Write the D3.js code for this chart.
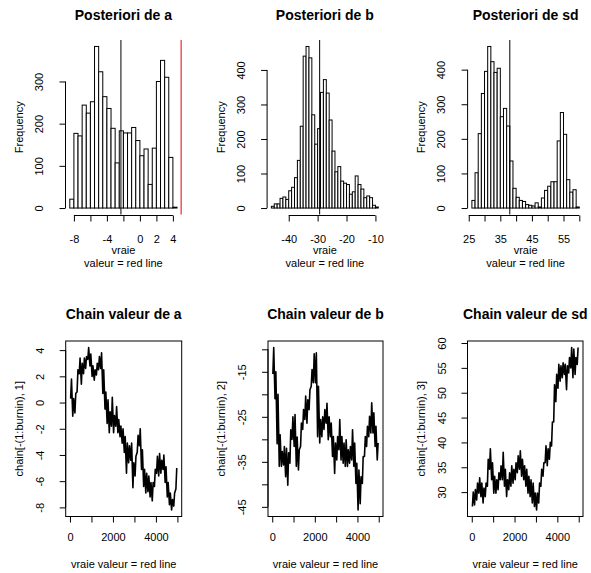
<!DOCTYPE html>
<html>
<head>
<meta charset="utf-8">
<script src="https://cdn.jsdelivr.net/npm/d3@7"></script>
<style>
  body { margin: 0; background: #fff; }
  svg { display: block; font-family: "Liberation Sans", Arial, sans-serif; }
</style>
</head>
<body>
<div id="chart"></div>
<script>
// ---- histogram counts (bins) ----
const histACounts = [21, 177, 171, 244, 225, 252, 383, 323, 264, 236, 189, 107, 183,
  178, 178, 191, 160, 124, 140, 56, 142, 300, 350, 310, 120, 2];
const histAStart = -8.5, histAStep = 0.5;

const histBCounts = [5, 12, 12, 28, 32, 25, 50, 60, 88, 138, 237, 440, 468, 435, 270,
  185, 230, 335, 372, 333, 255, 165, 105, 120, 78, 72, 68, 40, 47, 93, 68, 55, 30,
  35, 30, 8, 3];
const histBStart = -46, histBStep = 1;

const histSdCounts = [22, 102, 215, 331, 395, 467, 423, 392, 404, 264, 288, 237, 136,
  57, 31, 22, 19, 10, 8, 6, 15, 3, 29, 51, 63, 76, 76, 194, 276, 213, 82, 46, 53, 3];
const histSdStart = 26, histSdStep = 1;

// black line (posterior mean) and red line (true value)
const meanValues = [-2.3, -29.3, 38.0];
const trueValueA = 5;

// ---- chains: low / high value in each block of 100 iterations ----
const traceALo = [0.3, -1.05, -0.8, 0.8, 2.2, 1.4, 2.2, 2.6, 3.3, 2.8, 2.0, 1.7, 2.1, 2.5,
  2.6, 0.7, -0.5, -1.6, -2.3, -1.8, -2.3, -1.8, -2.3, -2.6, -3.1, -3.8, -5.4, -4.6, -4.4,
  -6.5, -5.6, -3.8, -3.3, -5.1, -6.4, -6.9, -6.8, -7.2, -7.5, -6.4, -5.4, -5.6, -5.4,
  -5.1, -6.1, -7.2, -7.8, -8.2, -7.9, -6.6];
const traceAHi = [1.8, 0.3, 0.7, 2.5, 3.4, 3.0, 3.4, 3.5, 4.2, 3.7, 2.8, 2.5, 3.0, 3.5,
  3.8, 2.5, 0.8, 0.2, -0.7, 0.4, -1.0, -0.3, -1.3, -1.8, -2.0, -2.6, -3.1, -3.3, -3.1,
  -4.6, -4.1, -2.5, -2.0, -3.6, -5.1, -5.4, -5.6, -6.1, -6.1, -5.1, -4.1, -3.9, -4.4,
  -4.0, -4.9, -6.1, -6.9, -7.4, -6.9, -5.0];

const traceBLo = [-15.5, -21, -31, -36, -36, -35.7, -38.3, -40.2, -35.3, -30, -31.6, -36,
  -36.8, -31.6, -27.8, -25.6, -26.4, -23.4, -18.2, -17.4, -17.4, -29.4, -30.8, -29.4,
  -27.8, -26.4, -30.1, -29.4, -33.8, -37.6, -34.6, -32.3, -34.6, -35.3, -36, -36, -35.3,
  -34.6, -36, -39.8, -45.7, -44.3, -39.8, -33.8, -31.6, -29.4, -28.6, -28.6, -31.6, -34.6];
const traceBHi = [-9.6, -15, -20, -29, -32.7, -31.6, -32, -33, -27.9, -25, -24.5, -29.5,
  -32.3, -26.4, -23.4, -20.4, -21.2, -19, -14.5, -11, -10.8, -18.2, -25.6, -25, -23.4,
  -22, -25, -26.4, -29.4, -30.8, -29.4, -25.6, -29.4, -30.8, -30.1, -32.3, -31.6, -27.9,
  -30.8, -35.3, -36.8, -38.3, -33.8, -29.4, -27.1, -24.9, -21.9, -24.1, -27.1, -30.8];

const traceSdLo = [27.1, 27.4, 28.4, 29.8, 29.1, 27.8, 29.1, 31.2, 34.6, 32.5, 29.8, 29.8,
  30.5, 32.5, 32.5, 31.2, 29.1, 30.5, 31.2, 31.8, 32.5, 33.9, 34.6, 33.2, 32.5, 31.2, 29.8,
  29.1, 27.8, 27.1, 26.4, 27.8, 31.2, 33.2, 35.9, 35.3, 36.6, 39.3, 44.1, 48.2, 50.9, 52.3,
  53, 53.7, 50.6, 54, 55, 53, 53.7, 55.7];
const traceSdHi = [30, 30.5, 31.8, 32.9, 31.8, 30.8, 31.8, 36.6, 38.7, 35.9, 33.2, 32.5,
  33.9, 35.3, 38, 34.6, 32.5, 33.9, 35.3, 34.6, 35.9, 37.3, 38.3, 36.6, 35.3, 34.6, 33.2,
  32.5, 31.8, 29.8, 29.8, 31.8, 34.6, 35.9, 39.3, 38.7, 40, 44.1, 51.6, 53.7, 55.7, 55.4,
  56, 55.7, 55.4, 57.1, 59.1, 58.8, 57.1, 59.1];
const nIter = 5000, blockSize = 100;

// ---- ticks ----
const histAXTicks = [-8, -6, -4, -2, 0, 2, 4], histAXLabels = ["-8", "", "-4", "", "0", "2", "4"];
const histBXTicks = [-40, -30, -20, -10], histBXLabels = ["-40", "-30", "-20", "-10"];
const histSdXTicks = [25, 30, 35, 40, 45, 50, 55, 60],
  histSdXLabels = ["25", "", "35", "", "45", "", "55", ""];
const histAYTicks = [0, 100, 200, 300];
const histBYTicks = [0, 100, 200, 300, 400];
const histSdYTicks = [0, 100, 200, 300, 400];
const iterTicks = [0, 1000, 2000, 3000, 4000, 5000],
  iterLabels = ["0", "", "2000", "", "4000", ""];
const traceAYTicks = [-8, -6, -4, -2, 0, 2, 4];
const traceBYTicks = [-45, -40, -35, -30, -25, -20, -15, -10],
  traceBYLabels = ["-45", "", "-35", "", "-25", "", "-15", ""];
const traceSdYTicks = [30, 35, 40, 45, 50, 55, 60];

const svg = d3.select("#chart").append("svg")
  .attr("width", 591)
  .attr("height", 573);

// R-style axis extension of 4 %
function extend(lo, hi) {
  const pad = (hi - lo) * 0.04;
  return [lo - pad, hi + pad];
}

function xAxisAt(g, scale, ticks, labels, y, labelY) {
  const ax = g.append("g")
    .attr("transform", `translate(0,${y})`)
    .call(d3.axisBottom(scale).tickValues(ticks).tickSize(6).tickFormat((d, i) => labels[i]));
  ax.select(".domain").attr("d", `M${scale(ticks[0])},0H${scale(ticks[ticks.length - 1])}`);
  ax.selectAll("line, path").attr("stroke", "#000");
  ax.selectAll("text")
    .attr("y", labelY)
    .attr("dy", null)
    .attr("fill", "#000")
    .attr("font-size", 11)
    .attr("font-family", "Liberation Sans, Arial, sans-serif");
}

function yAxisAt(g, scale, ticks, labels, x, labelX) {
  const ax = g.append("g")
    .attr("transform", `translate(${x},0)`)
    .call(d3.axisLeft(scale).tickValues(ticks).tickSize(6).tickFormat((d, i) => labels[i]));
  ax.select(".domain").attr("d", `M0,${scale(ticks[0])}V${scale(ticks[ticks.length - 1])}`);
  ax.selectAll("line, path").attr("stroke", "#000");
  ax.selectAll("text")
    .attr("transform", "rotate(-90)")
    .attr("x", 0)
    .attr("y", -labelX)
    .attr("dy", null)
    .attr("text-anchor", "middle")
    .attr("fill", "#000")
    .attr("font-size", 11)
    .attr("font-family", "Liberation Sans, Arial, sans-serif");
}

function drawHist(cfg) {
  const n = cfg.counts.length;
  const bins = cfg.counts.map((c, i) => ({
    x0: cfg.start + i * cfg.step,
    x1: cfg.start + (i + 1) * cfg.step,
    count: c
  }));
  const x = d3.scaleLinear()
    .domain(extend(cfg.start, cfg.start + n * cfg.step))
    .range([cfg.left, cfg.right]);
  const y = d3.scaleLinear()
    .domain(extend(0, d3.max(cfg.counts)))
    .range([cfg.bottom, cfg.top]);

  const g = svg.append("g");

  g.selectAll(".bar")
    .data(bins)
    .join("rect")
    .attr("class", "bar")
    .attr("x", d => x(d.x0))
    .attr("y", d => y(d.count))
    .attr("width", d => x(d.x1) - x(d.x0))
    .attr("height", d => y(0) - y(d.count))
    .attr("fill", "#fff")
    .attr("stroke", "#000")
    .attr("stroke-width", 1);

  // mean line
  g.append("line")
    .attr("x1", x(cfg.mean)).attr("x2", x(cfg.mean))
    .attr("y1", cfg.top).attr("y2", cfg.bottom)
    .attr("stroke", "#000");

  if (cfg.trueValue !== undefined) {
    g.append("line")
      .attr("x1", x(cfg.trueValue)).attr("x2", x(cfg.trueValue))
      .attr("y1", cfg.top).attr("y2", cfg.bottom)
      .attr("stroke", "#e00000");
  }

  xAxisAt(g, x, cfg.xTicks, cfg.xLabels, cfg.bottom + 1, 27.5);
  yAxisAt(g, y, cfg.yTicks, cfg.yTicks.map(String), cfg.left, 22.2);

  const cx = (cfg.left + cfg.right) / 2;
  g.append("text")
    .attr("x", cx).attr("y", 20)
    .attr("text-anchor", "middle")
    .attr("font-size", 14).attr("font-weight", "bold")
    .text(cfg.title);
  g.append("text")
    .attr("x", cx).attr("y", 253.5)
    .attr("text-anchor", "middle").attr("font-size", 11)
    .text("vraie");
  g.append("text")
    .attr("x", cx).attr("y", 267)
    .attr("text-anchor", "middle").attr("font-size", 11)
    .text("valeur = red line");
  g.append("text")
    .attr("transform", `translate(${cfg.left - 42.5},${(cfg.top + cfg.bottom) / 2}) rotate(-90)`)
    .attr("text-anchor", "middle").attr("font-size", 11)
    .text("Frequency");
}

function drawTrace(cfg) {
  // each block of 100 iterations: its low then its high value
  const pts = [];
  cfg.lo.forEach((v, i) => {
    pts.push([i * blockSize + 30, v]);
    pts.push([i * blockSize + 70, cfg.hi[i]]);
  });
  const x = d3.scaleLinear()
    .domain(extend(1, nIter))
    .range([cfg.left, cfg.right]);
  const y = d3.scaleLinear()
    .domain(extend(d3.min(cfg.lo), d3.max(cfg.hi)))
    .range([cfg.bottom, cfg.top]);

  const g = svg.append("g");

  g.append("path")
    .datum(pts)
    .attr("fill", "none")
    .attr("stroke", "#000")
    .attr("stroke-width", 1.6)
    .attr("stroke-linejoin", "round")
    .attr("d", d3.line().x(d => x(d[0])).y(d => y(d[1])));

  g.append("rect")
    .attr("x", cfg.left).attr("y", cfg.top)
    .attr("width", cfg.right - cfg.left).attr("height", cfg.bottom - cfg.top)
    .attr("fill", "none").attr("stroke", "#000");

  xAxisAt(g, x, iterTicks, iterLabels, cfg.bottom, 24.2);
  yAxisAt(g, y, cfg.yTicks, cfg.yLabels, cfg.left, 21.7);

  const cx = (cfg.left + cfg.right) / 2;
  g.append("text")
    .attr("x", cx).attr("y", 319)
    .attr("text-anchor", "middle")
    .attr("font-size", 14).attr("font-weight", "bold")
    .text(cfg.title);
  g.append("text")
    .attr("x", cx).attr("y", 568.3)
    .attr("text-anchor", "middle").attr("font-size", 11)
    .text("vraie valeur = red line");
  g.append("text")
    .attr("transform", `translate(${cfg.left - 42.7},${(cfg.top + cfg.bottom) / 2}) rotate(-90)`)
    .attr("text-anchor", "middle").attr("font-size", 11)
    .text(cfg.ylab);
}

const histTop = 40, histBottom = 214.5;
drawHist({ left: 65.5, right: 181.3, top: histTop, bottom: histBottom,
  counts: histACounts, start: histAStart, step: histAStep,
  xTicks: histAXTicks, xLabels: histAXLabels, yTicks: histAYTicks,
  mean: meanValues[0], trueValue: trueValueA, title: "Posteriori de a" });
drawHist({ left: 267.1, right: 382.6, top: histTop, bottom: histBottom,
  counts: histBCounts, start: histBStart, step: histBStep,
  xTicks: histBXTicks, xLabels: histBXLabels, yTicks: histBYTicks,
  mean: meanValues[1], title: "Posteriori de b" });
drawHist({ left: 467.6, right: 583.6, top: histTop, bottom: histBottom,
  counts: histSdCounts, start: histSdStart, step: histSdStep,
  xTicks: histSdXTicks, xLabels: histSdXLabels, yTicks: histSdYTicks,
  mean: meanValues[2], title: "Posteriori de sd" });

const traceTop = 341, traceBottom = 516.5;
drawTrace({ left: 65.7, right: 181.7, top: traceTop, bottom: traceBottom,
  lo: traceALo, hi: traceAHi, yTicks: traceAYTicks, yLabels: traceAYTicks.map(String),
  title: "Chain valeur de a", ylab: "chain[-(1:burnin), 1]" });
drawTrace({ left: 268, right: 383, top: traceTop, bottom: traceBottom,
  lo: traceBLo, hi: traceBHi, yTicks: traceBYTicks, yLabels: traceBYLabels,
  title: "Chain valeur de b", ylab: "chain[-(1:burnin), 2]" });
drawTrace({ left: 467.5, right: 583, top: traceTop, bottom: traceBottom,
  lo: traceSdLo, hi: traceSdHi, yTicks: traceSdYTicks, yLabels: traceSdYTicks.map(String),
  title: "Chain valeur de sd", ylab: "chain[-(1:burnin), 3]" });
</script>
</body>
</html>
